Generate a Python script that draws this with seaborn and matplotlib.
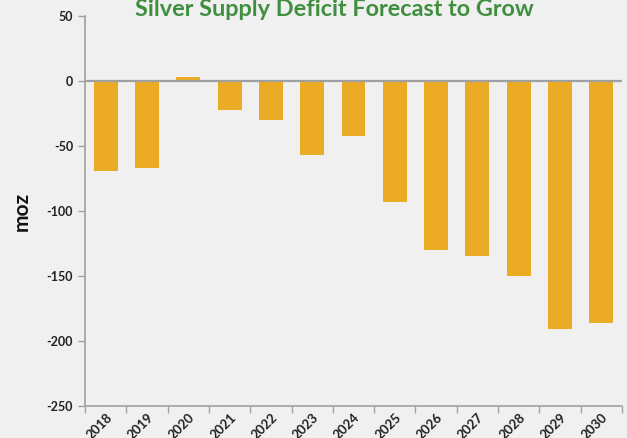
import numpy as np
import pandas as pd
import matplotlib
matplotlib.use("Agg")
import matplotlib.pyplot as plt
import seaborn as sns

# values (million ounces)
years = ["2018", "2019", "2020", "2021", "2022", "2023", "2024",
         "2025", "2026", "2027", "2028", "2029", "2030"]
deficit = [-69, -67, 3, -22, -30, -57, -42, -93, -130, -135, -150, -191, -186]
y_ticks = [50, 0, -50, -100, -150, -200, -250]

BG = "#f0f0f0"
BAR = "#ebab24"
GRAY = "#a0a0a0"

sns.set_theme(style="white")
plt.rcParams["font.family"] = ["Lato", "DejaVu Sans"]

df = pd.DataFrame({"year": years, "moz": deficit})

fig = plt.figure(figsize=(6.27, 4.38), dpi=100, facecolor=BG)
ax = fig.add_axes([0.1356, 0.0731, 0.8564, 0.8904], facecolor=BG)

sns.barplot(data=df, x="year", y="moz", color=BAR, saturation=1,
            width=0.58, linewidth=0, edgecolor="none", ax=ax)

ax.set_ylim(-250, 50)
ax.set_xlim(-0.5, 12.5)
ax.set_yticks(y_ticks)
ax.set_yticklabels([str(t) for t in y_ticks], fontsize=9, fontweight="bold",
                   color="#222222")
ax.axhline(0, color=GRAY, lw=1.6, zorder=3)

# category ticks at the boundaries, labels under the bars
ax.set_xticks(np.arange(len(years)))
ax.set_xticklabels(years, rotation=45, ha="right", va="top",
                   rotation_mode="anchor",
                   fontsize=9.5, fontweight="bold", color="#222222")
ax.tick_params(axis="x", which="major", length=0, pad=4)
ax.set_xticks(np.arange(len(years) + 1) - 0.5, minor=True)
ax.tick_params(axis="x", which="minor", length=5, width=1, color=GRAY,
               direction="out", bottom=True)
ax.tick_params(axis="y", length=5, width=1, color=GRAY, direction="out", left=True)

for side in ["top", "right"]:
    ax.spines[side].set_visible(False)
for side in ["left", "bottom"]:
    ax.spines[side].set_color(GRAY)
    ax.spines[side].set_linewidth(1.2)

ax.set_xlabel("")
ax.set_ylabel("moz", fontsize=15, fontweight="bold", color="#111111", labelpad=11)

fig.text(0.533, 1 - 16.5 / 438, "Silver Supply Deficit Forecast to Grow",
         ha="center", va="baseline", fontsize=16.9, fontweight="bold",
         color="#3f8f3f")

fig.savefig("out.png", dpi=100, facecolor=BG)
